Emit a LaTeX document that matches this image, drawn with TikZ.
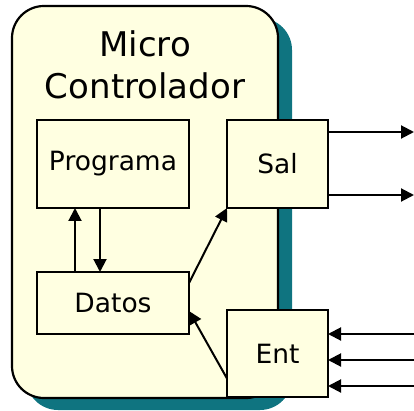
\documentclass[tikz,border=0pt]{standalone}
\usepackage{fontspec}
\setmainfont{DejaVu Sans}
\usetikzlibrary{positioning, arrows.meta, shadows}
\definecolor{boxfill}{HTML}{FFFFE1}
\definecolor{shadowteal}{HTML}{0F7480}

\begin{document}
\begin{tikzpicture}[x=1pt, y=-1pt,
        chip/.style={draw, line width=2.2pt, fill=boxfill, rounded corners=32pt, outer sep=0pt,
            minimum width=266pt, minimum height=392pt,
            drop shadow={shadow xshift=14pt, shadow yshift=-12pt, fill=shadowteal, opacity=1}},
        block/.style={draw, line width=2.2pt, fill=boxfill, inner sep=0pt, outer sep=0pt,
            font=\fontsize{26.5}{30}\selectfont},
        arrow/.style={-{Triangle[length=13pt, width=13pt]}, line width=2pt}
    ]
    \useasboundingbox (0,0) rectangle (414,411);

    \node[chip] (micro) at (145,202) {};
    \node[inner sep=0pt, align=center, font=\fontsize{34}{42}\selectfont,
          below=24pt of micro.north] (title) {Micro\\Controlador};

    \node[block, minimum width=152pt, minimum height=88pt] (programa) at (113,164) {Programa};
    \node[block, minimum width=101pt, minimum height=88pt, right=38pt of programa] (sal) {Sal};
    \node[block, minimum width=152pt, minimum height=62pt, below=64pt of programa] (datos) {Datos};
    \node[block, minimum width=101pt, minimum height=87pt, below=102pt of sal] (ent) {Ent};

    % outside lines
    \coordinate (out1) at (414,132);
    \coordinate (out2) at (414,195);
    \coordinate (in1) at (414,334);
    \coordinate (in2) at (414,360);
    \coordinate (in3) at (414,386);

    \draw[arrow] ([xshift=-38pt]datos.north) -- ([xshift=-38pt]programa.south);
    \draw[arrow] ([xshift=-13pt]programa.south) -- ([xshift=-13pt]datos.north);
    \draw[arrow] ([yshift=-11pt]datos.north east) -- (sal.south west);
    \draw[arrow] ([yshift=-25pt]ent.west) -- ([yshift=-8pt]datos.east);

    \draw[arrow] (sal.east |- out1) -- (out1);
    \draw[arrow] (sal.east |- out2) -- (out2);
    \draw[arrow] (in1) -- (ent.east |- in1);
    \draw[arrow] (in2) -- (ent.east |- in2);
    \draw[arrow] (in3) -- (ent.east |- in3);
\end{tikzpicture}
\end{document}
